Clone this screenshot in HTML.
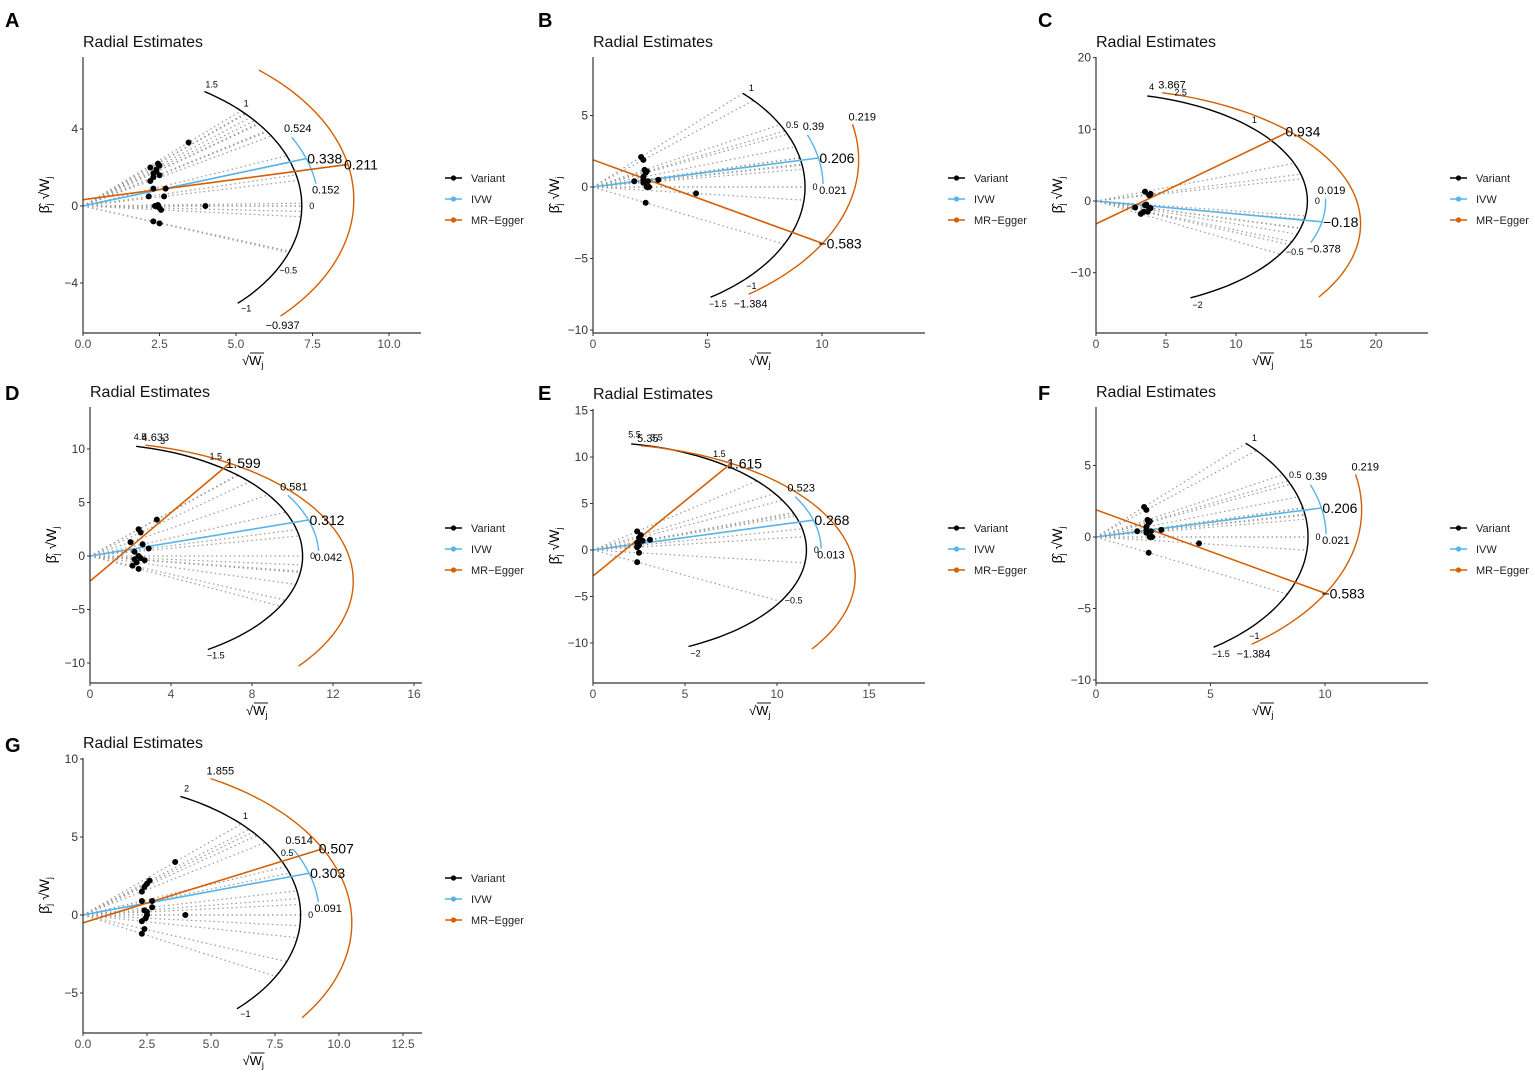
<!DOCTYPE html>
<html><head><meta charset="utf-8"><style>
html,body{margin:0;padding:0;background:#fff;}
svg{display:block;font-family:"Liberation Sans",sans-serif;}
</style></head><body>
<svg id="fig" width="1535" height="1077" viewBox="0 0 1535 1077" xmlns="http://www.w3.org/2000/svg">
<rect width="1535" height="1077" fill="#fff"/>
</svg>
<script>
// ---- data arrays (per panel) ----
const A_sqrtW=[3.45,2.2,2.45,2.5,2.3,2.4,2.5,2.3,2.2,2.3,2.7,2.15,2.65,2.35,2.4,2.5,2.45,2.55,4.0,2.3,2.5,2.4];
const A_ratioY=[3.3,2.0,2.2,2.1,1.7,1.8,1.6,1.5,1.3,0.9,0.9,0.5,0.5,0.0,0.0,-0.1,0.05,-0.2,0.0,-0.8,-0.9,1.9];
const A_ivw=[0.338,0.152,0.524];
const A_egger=[0.211,-0.937,1.17];
const A_eggerInt=0.33;
const B_sqrtW=[2.1,2.2,2.25,2.3,2.35,2.2,1.8,2.85,2.4,2.2,2.35,2.45,4.5,2.3,2.2];
const B_ratioY=[2.1,1.9,1.2,1.0,1.1,0.7,0.4,0.5,0.4,0.3,0.0,0.0,-0.45,-1.1,0.5];
const B_ivw=[0.206,0.021,0.39];
const B_egger=[-0.583,-1.384,0.219];
const B_eggerInt=1.9;
const C_sqrtW=[3.5,3.8,3.9,3.6,3.8,3.7,3.2,3.4,2.8,3.9,3.5];
const C_ratioY=[1.3,0.8,1.0,-0.5,-1.0,-1.5,-1.8,-1.5,-0.9,-1.0,-0.6];
const C_ivw=[-0.18,-0.378,0.019];
const C_egger=[0.934,-0.64,3.867];
const C_eggerInt=-3.2;
const D_sqrtW=[3.3,2.4,2.5,2.0,2.6,2.2,2.9,2.4,2.5,2.7,2.1,2.3,2.4,2.2];
const D_ratioY=[3.4,2.5,2.2,1.3,1.1,0.4,0.7,0.0,-0.2,-0.4,-0.9,-0.6,-1.2,-0.3];
const D_ivw=[0.312,0.042,0.581];
const D_egger=[1.599,-0.77,4.633];
const D_eggerInt=-2.35;
const E_sqrtW=[2.4,2.6,3.1,2.5,2.4,2.7,2.4,2.5,2.4,2.5];
const E_ratioY=[2.0,1.6,1.1,1.3,0.8,1.0,0.3,-0.3,-1.3,0.5];
const E_ivw=[0.268,0.013,0.523];
const E_egger=[1.615,-0.66,5.35];
const E_eggerInt=-2.8;
const G_sqrtW=[3.6,2.3,2.4,2.5,2.6,2.3,2.7,2.7,2.4,2.5,2.45,2.3,4.0,2.3,2.4,2.5];
const G_ratioY=[3.4,1.5,1.8,2.0,2.2,0.9,0.9,0.5,0.3,0.0,-0.2,-0.4,0.0,-1.2,-0.9,0.2];
const G_ivw=[0.303,0.091,0.514];
const G_egger=[0.507,-0.71,1.855];
const G_eggerInt=-0.5;
const A_xticks=[0,2.5,5,7.5,10], A_yticks=[-4,0,4];
const B_xticks=[0,5,10], B_yticks=[-10,-5,0,5];
const C_xticks=[0,5,10,15,20], C_yticks=[-10,0,10,20];
const D_xticks=[0,4,8,12,16], D_yticks=[-10,-5,0,5,10];
const E_xticks=[0,5,10,15], E_yticks=[-10,-5,0,5,10,15];
const G_xticks=[0,2.5,5,7.5,10,12.5], G_yticks=[-5,0,5,10];
const A_blackLabels=[1.5,1,0,-0.5,-1], B_blackLabels=[1,0.5,0,-1,-1.5], C_blackLabels=[4,2.5,1,0,-0.5,-2];
const D_blackLabels=[4.5,3,1.5,0,-1.5], E_blackLabels=[5.5,3.5,1.5,0,-0.5,-2], G_blackLabels=[2,1,0.5,0,-1];

const panels=[
 {L:'A',lx:5,ly:27,ox:83,sx:30.6,oy:206,sy:19.25,top:57,bottom:333,right:421,dec:1,xt:A_xticks,yt:A_yticks,x:A_sqrtW,y:A_ratioY,R:7.15,blo:-1,bhi:1.5,bl:A_blackLabels,ivw:A_ivw,iR:7.7,eg:A_egger,ec:A_eggerInt,eR:8.85,egTop:false,egBot:true,leg:445,legy:178},
 {L:'B',lx:538,ly:27,ox:593,sx:22.9,oy:187,sy:14.3,top:57,bottom:333,right:925,dec:0,xt:B_xticks,yt:B_yticks,x:B_sqrtW,y:B_ratioY,R:9.26,blo:-1.5,bhi:1,bl:B_blackLabels,ivw:B_ivw,iR:10.05,eg:B_egger,ec:B_eggerInt,eR:11.6,egTop:true,egBot:true,leg:948,legy:178},
 {L:'C',lx:1038,ly:27,ox:1096,sx:14.0,oy:201,sy:7.17,top:57,bottom:333,right:1428,dec:0,xt:C_xticks,yt:C_yticks,x:C_sqrtW,y:C_ratioY,R:15.1,blo:-2,bhi:4,bl:C_blackLabels,ivw:C_ivw,iR:16.4,eg:C_egger,ec:C_eggerInt,eR:18.9,egTop:true,egBot:false,leg:1450,legy:178},
 {L:'D',lx:5,ly:400,ox:90,sx:20.25,oy:556,sy:10.7,top:407,bottom:683,right:422,dec:0,xt:D_xticks,yt:D_yticks,x:D_sqrtW,y:D_ratioY,R:10.5,blo:-1.5,bhi:4.5,bl:D_blackLabels,ivw:D_ivw,iR:11.3,eg:D_egger,ec:D_eggerInt,eR:13.0,egTop:true,egBot:false,leg:445,legy:528},
 {L:'E',lx:538,ly:400,ox:593,sx:18.4,oy:550,sy:9.3,top:409,bottom:683,right:925,dec:0,xt:E_xticks,yt:E_yticks,x:E_sqrtW,y:E_ratioY,R:11.6,blo:-2,bhi:5.5,bl:E_blackLabels,ivw:E_ivw,iR:12.4,eg:E_egger,ec:E_eggerInt,eR:14.25,egTop:true,egBot:false,leg:948,legy:528},
 {L:'F',lx:1038,ly:400,ox:1096,sx:22.9,oy:537,sy:14.3,top:407,bottom:683,right:1428,dec:0,xt:B_xticks,yt:B_yticks,x:B_sqrtW,y:B_ratioY,R:9.26,blo:-1.5,bhi:1,bl:B_blackLabels,ivw:B_ivw,iR:10.05,eg:B_egger,ec:B_eggerInt,eR:11.6,egTop:true,egBot:true,leg:1450,legy:528},
 {L:'G',lx:5,ly:752,ox:83,sx:25.6,oy:915,sy:15.6,top:758,bottom:1033,right:422,dec:1,xt:G_xticks,yt:G_yticks,x:G_sqrtW,y:G_ratioY,R:8.5,blo:-1,bhi:2,bl:G_blackLabels,ivw:G_ivw,iR:9.23,eg:G_egger,ec:G_eggerInt,eR:10.5,egTop:true,egBot:false,leg:445,legy:878}
];
const NS='http://www.w3.org/2000/svg';
const svg=document.getElementById('fig');
function mk(tag,attrs,parent,txt){const e=document.createElementNS(NS,tag);for(const k in attrs)e.setAttribute(k,attrs[k]);if(txt!==undefined)e.textContent=txt;(parent||svg).appendChild(e);return e;}
function fmt(v){return (v<0?'\u2212':'')+Math.abs(v).toString();}
const BLUE='#56B4E9',ORANGE='#D55E00';

panels.forEach((p,pi)=>{
 const X=v=>p.ox+p.sx*v, Y=v=>p.oy-p.sy*v;
 const g=mk('g',{});
 
 
 const cid='clip'+pi;
 const cp=mk('clipPath',{id:cid},g);
 mk('rect',{x:p.ox,y:p.top-4,width:p.right-p.ox,height:p.bottom-p.top+4},cp);
 const letter=mk('text',{x:p.lx,y:p.ly,'font-size':20,'font-weight':'bold',fill:'#000'},g,p.L);
 
 
 const title=mk('text',{x:p.ox,y:p.top-10,'font-size':16,fill:'#111'},g,'Radial Estimates');
 
 
 const plot=mk('g',{'clip-path':'url(#'+cid+')'},g);
 const arcPts=(c,R,lo,hi)=>{const a0=Math.atan(lo),a1=Math.atan(hi);let s='';for(let i=0;i<=60;i++){const a=a0+(a1-a0)*i/60;s+=X(R*Math.cos(a)).toFixed(1)+','+Y(c+R*Math.sin(a)).toFixed(1)+' ';}return s;};
 const arcP=(c,R,s)=>{const a=Math.atan(s);return [X(R*Math.cos(a)),Y(c+R*Math.sin(a))];};
 p.x.forEach((xv,i)=>{const s=p.y[i]/xv;const e=arcP(0,p.R,s);
  const l=mk('line',{x1:X(0),y1:Y(0),x2:e[0],y2:e[1],stroke:'#9a9a9a','stroke-width':1.2,'stroke-dasharray':'1.5,3'},plot);
  
  });
 const ba=mk('polyline',{points:arcPts(0,p.R,p.blo,p.bhi),fill:'none',stroke:'#000','stroke-width':1.4},plot);
 
 
 p.bl.forEach(s=>{const e=arcP(0,p.R,s);const dx=e[0]-X(0),dy=e[1]-Y(0),d=Math.hypot(dx,dy);
  const t=mk('text',{x:e[0]+dx/d*10,y:e[1]+dy/d*10+3,'font-size':9,'text-anchor':'middle',fill:'#000'},g,fmt(s));
  
  });
 const ie=arcP(0,p.iR,p.ivw[0]);
 const il=mk('line',{x1:X(0),y1:Y(0),x2:ie[0],y2:ie[1],stroke:BLUE,'stroke-width':1.6},plot);
 
 
 const ia=mk('polyline',{points:arcPts(0,p.iR,p.ivw[1],p.ivw[2]),fill:'none',stroke:BLUE,'stroke-width':1.4},plot);
 
 
 let t=mk('text',{x:ie[0]+1,y:ie[1]+5,'font-size':14,fill:'#000'},g,fmt(p.ivw[0]));
 
 
 const iu=arcP(0,p.iR,p.ivw[2]);
 t=mk('text',{x:iu[0]+6,y:iu[1]-5,'font-size':11,'text-anchor':'middle',fill:'#000'},g,fmt(p.ivw[2]));
 
 
 const ilo=arcP(0,p.iR,p.ivw[1]);
 t=mk('text',{x:ilo[0]-4,y:ilo[1]+10,'font-size':11,fill:'#000'},g,fmt(p.ivw[1]));
 
 
 const ee=arcP(p.ec,p.eR,p.eg[0]);
 const el=mk('line',{x1:X(0),y1:Y(p.ec),x2:ee[0],y2:ee[1],stroke:ORANGE,'stroke-width':1.6},plot);
 
 
 const ea=mk('polyline',{points:arcPts(p.ec,p.eR,p.eg[1],p.eg[2]),fill:'none',stroke:ORANGE,'stroke-width':1.4},plot);
 
 
 t=mk('text',{x:ee[0]-4,y:ee[1]+5,'font-size':14,fill:'#000'},g,fmt(p.eg[0]));
 
 
 if(p.egTop){const u=arcP(p.ec,p.eR,p.eg[2]);
  t=mk('text',{x:u[0]-4,y:u[1]-4,'font-size':11,fill:'#000'},g,fmt(p.eg[2]));
  
  }
 if(p.egBot){const u=arcP(p.ec,p.eR,p.eg[1]);
  t=mk('text',{x:u[0]+2,y:u[1]+13,'font-size':11,'text-anchor':'middle',fill:'#000'},g,fmt(p.eg[1]));
  
  }
 p.x.forEach((xv,i)=>{const c=mk('circle',{cx:X(xv),cy:Y(p.y[i]),r:2.6,fill:'#000',stroke:'#000','stroke-width':0.8},g);
  
  });
 const xa=mk('line',{x1:p.ox,y1:p.bottom,x2:p.right,y2:p.bottom,stroke:'#333','stroke-width':1.2},g);
 
 
 const ya=mk('line',{x1:p.ox,y1:p.top,x2:p.ox,y2:p.bottom,stroke:'#333','stroke-width':1.2},g);
 
 
 p.xt.forEach(v=>{mk('line',{x1:X(v),y1:p.bottom,x2:X(v),y2:p.bottom+3,stroke:'#333'},g);
  const tt=mk('text',{x:X(v),y:p.bottom+15,'font-size':12,'text-anchor':'middle',fill:'#4d4d4d'},g,p.dec?v.toFixed(1):String(v));
  
  });
 p.yt.forEach(v=>{mk('line',{x1:p.ox-3,y1:Y(v),x2:p.ox,y2:Y(v),stroke:'#333'},g);
  const tt=mk('text',{x:p.ox-5,y:Y(v)+4,'font-size':12,'text-anchor':'end',fill:'#333'},g,fmt(v));
  
  });
 const xc=(p.ox+p.right)/2;
 const xt=mk('text',{x:xc-10,y:p.bottom+32,'font-size':13,fill:'#000'},g);
 
 
 xt.innerHTML='√W<tspan font-size="9" dy="3">j</tspan>';
 mk('line',{x1:xc-2,y1:p.bottom+20,x2:xc+12,y2:p.bottom+20,stroke:'#000','stroke-width':0.9},g);
 const yc=(p.top+p.bottom)/2;
 const yt=mk('text',{x:0,y:0,'font-size':14,fill:'#000','text-anchor':'middle',transform:'translate('+(p.ox-34)+','+yc+') rotate(-90)'},g);
 
 
 yt.innerHTML='β\u0302<tspan font-size="9" dy="3">j</tspan><tspan dy="-3"> √W</tspan><tspan font-size="9" dy="3">j</tspan>';
 const items=[['Variant','#000'],['IVW',BLUE],['MR\u2212Egger',ORANGE]];
 items.forEach((it,k)=>{const yy=p.legy+k*21;
  const lg=mk('g',{},g);
  
  
  mk('line',{x1:p.leg,y1:yy,x2:p.leg+17,y2:yy,stroke:it[1],'stroke-width':1.6},lg);
  mk('circle',{cx:p.leg+8.5,cy:yy,r:2.6,fill:it[1]},lg);
  mk('text',{x:p.leg+26,y:yy+4,'font-size':11,fill:'#222'},lg,it[0]);});
});
</script>
</body></html>
